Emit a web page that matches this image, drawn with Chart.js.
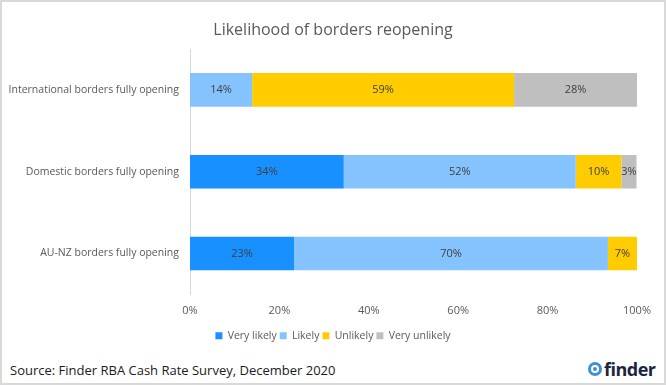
<!DOCTYPE html>
<html>
<head>
<meta charset="utf-8">
<script src="https://cdn.jsdelivr.net/npm/chart.js@4"></script>
<style>
    body { margin: 0; background: #fff; }
    .frame {
        position: absolute; left: 0; top: 0; width: 666px; height: 385px;
        border: 2px solid #d9d9d9; box-sizing: border-box; pointer-events: none;
    }
    .chart-box { position: absolute; left: 0; top: 0; width: 666px; height: 355px; }
    .title {
        position: absolute; left: 0; top: 18px; width: 666px; text-align: center;
        font: 16px 'Open Sans', sans-serif; color: #595959;
    }
    .source {
        position: absolute; left: 10px; top: 361px;
        font: 13px 'Open Sans', sans-serif; color: #1a1a1a; white-space: nowrap;
    }
    .logo {
        position: absolute; left: 588px; top: 357px; height: 24px;
        display: flex; align-items: center;
    }
    .logo .dot {
        width: 14px; height: 14px; border-radius: 50%; background: #3d8fd9;
        position: relative; margin-right: 2px;
    }
    .logo .dot::after {
        content: ''; position: absolute; left: 3px; top: 3px; width: 4px; height: 4px;
        border: 2px solid #fff; border-radius: 50%;
    }
    .logo .word {
        font: bold 18px 'Open Sans', sans-serif; color: #1c2541; letter-spacing: -0.5px;
    }
</style>
</head>
<body>
<div class="chart-box"><canvas id="bordersChart"></canvas></div>
<div class="title">Likelihood of borders reopening</div>
<div class="source">Source: Finder RBA Cash Rate Survey, December 2020</div>
<div class="logo"><span class="dot"></span><span class="word">finder</span></div>
<div class="frame"></div>

<script>
// Survey answers, per cent of respondents
const categories = [
    'International borders fully opening',
    'Domestic borders fully opening',
    'AU-NZ borders fully opening'
];
const veryLikely = [0, 34.4, 23.3];
const likely = [13.9, 51.9, 70.2];
const unlikely = [58.6, 10.2, 6.5];
const veryUnlikely = [27.5, 3.4, 0];
const xTicks = [0, 20, 40, 60, 80, 100];

const seriesNames = ['Very likely', 'Likely', 'Unlikely', 'Very unlikely'];
const seriesColors = ['#1890ff', '#85c3ff', '#ffcc00', '#bfbfbf'];
const seriesData = [veryLikely, likely, unlikely, veryUnlikely];

const FONT = "'Open Sans', sans-serif";

// Percent labels in the middle of each segment
const segmentLabels = {
    id: 'segmentLabels',
    afterDatasetsDraw(chart) {
        const ctx = chart.ctx;
        ctx.save();
        ctx.font = '11px ' + FONT;
        ctx.fillStyle = '#404040';
        ctx.textAlign = 'center';
        ctx.textBaseline = 'middle';
        chart.data.datasets.forEach((ds, i) => {
            chart.getDatasetMeta(i).data.forEach((bar, j) => {
                const v = ds.data[j];
                if (!v) return;
                const p = bar.getCenterPoint();
                ctx.fillText(Math.round(v) + '%', p.x, p.y);
            });
        });
        ctx.restore();
    }
};

document.addEventListener('DOMContentLoaded', function () {
    const ctx = document.getElementById('bordersChart').getContext('2d');

    new Chart(ctx, {
        type: 'bar',
        data: {
            labels: categories,
            datasets: seriesData.map((data, i) => ({
                label: seriesNames[i],
                data: data,
                backgroundColor: seriesColors[i],
                borderWidth: 0,
                barPercentage: 0.41,
                categoryPercentage: 1
            }))
        },
        options: {
            indexAxis: 'y',
            responsive: true,
            maintainAspectRatio: false,
            animation: false,
            layout: {
                padding: { left: 0, right: 0, top: 49, bottom: 4 }
            },
            plugins: {
                legend: {
                    position: 'bottom',
                    labels: {
                        color: '#595959',
                        font: { family: FONT, size: 10.5 },
                        boxWidth: 7,
                        boxHeight: 7,
                        padding: 3
                    }
                },
                tooltip: { enabled: false }
            },
            scales: {
                x: {
                    stacked: true,
                    min: 0,
                    max: 100,
                    afterBuildTicks: scale => {
                        scale.ticks = xTicks.map(v => ({ value: v }));
                    },
                    grid: { display: false, drawTicks: false },
                    border: { display: false },
                    ticks: {
                        color: '#595959',
                        font: { family: FONT, size: 11 },
                        padding: 10,
                        callback: value => value + '%'
                    }
                },
                y: {
                    stacked: true,
                    afterFit: scale => { scale.width = 190; },
                    grid: { display: false, drawTicks: false },
                    border: { display: true, color: '#d9d9d9', width: 1 },
                    ticks: {
                        color: '#595959',
                        font: { family: FONT, size: 10.5 },
                        padding: 11
                    }
                },
                // empty right-hand spacer so the plot ends at 100% near the frame
                spacer: {
                    type: 'category',
                    axis: 'y',
                    position: 'right',
                    afterFit: scale => { scale.width = 29; },
                    grid: { display: false, drawTicks: false },
                    border: { display: false },
                    ticks: { display: false }
                }
            }
        },
        plugins: [segmentLabels]
    });
});
</script>
</body>
</html>
